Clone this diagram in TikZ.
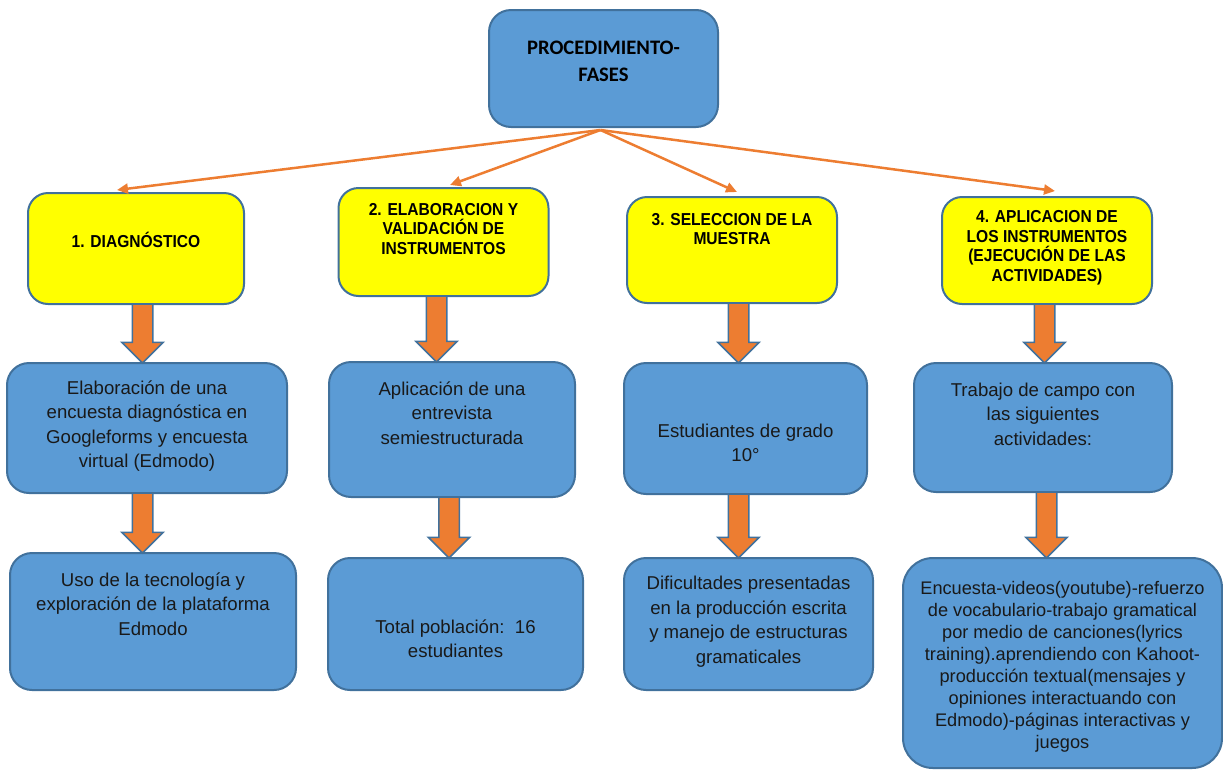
\documentclass[tikz,border=0pt]{standalone}
\usepackage{fontspec}
\setmainfont{Liberation Sans}
\newfontfamily\titlefont{Carlito}
\newfontfamily\phasefont[FakeStretch=0.9]{Liberation Sans}
\usepackage{xcolor}
\usepackage{tikz}
\usetikzlibrary{shapes,arrows,positioning,calc,arrows.meta}

\definecolor{boxblue}{HTML}{5B9BD5}
\definecolor{edgeblue}{HTML}{41719C}
\definecolor{phaseyellow}{HTML}{FFFF00}
\definecolor{arroworange}{HTML}{ED7D31}

\begin{document}
\begin{tikzpicture}[x=1pt, y=-1pt,
    box/.style={draw=edgeblue, line width=2pt, rounded corners=22pt, inner sep=0pt, outer sep=0pt},
    bluebox/.style={box, fill=boxblue},
    phasebox/.style={box, fill=phaseyellow, rounded corners=20pt},
    titletext/.style={align=center, font=\titlefont\bfseries\fontsize{20.6}{27}\selectfont},
    ptext/.style={align=center, font=\phasefont\bfseries\fontsize{17.3}{19.5}\selectfont},
    btext/.style={align=center, text=black!90, font=\fontsize{18.6}{24.5}\selectfont},
    blockarr/.style={single arrow, draw=edgeblue, fill=arroworange, line width=1.5pt, rotate=-90,
        minimum width=40pt, single arrow head extend=10.5pt, inner xsep=0pt, inner ysep=9.5pt,
        outer sep=0pt, anchor=tail},
    fanarr/.style={draw=arroworange, line width=2.5pt, -{Triangle[length=11pt,width=10pt]}}]
    \useasboundingbox (0,0) rectangle (1223,777);

    \node[bluebox, minimum width=229, minimum height=117] (top) at (603.5,68.5) {};
    \node[titletext] (top-t) at ([yshift=7.5pt]top.center) {PROCEDIMIENTO-\\FASES};

    \node[phasebox, minimum width=216, minimum height=111] (y1) at (136,248.5) {};
    \node[ptext] (y1-t) at ([yshift=8.5pt]y1.center) {1. DIAGNÓSTICO};
    \node[phasebox, minimum width=210, minimum height=108] (y2) at (443.5,242) {};
    \node[ptext] (y2-t) at ([yshift=13pt]y2.center) {2. ELABORACION Y\\VALIDACIÓN DE\\INSTRUMENTOS};
    \node[phasebox, minimum width=210, minimum height=106] (y3) at (732,250) {};
    \node[ptext] (y3-t) at ([yshift=21pt]y3.center) {3. SELECCION DE LA\\MUESTRA};
    \node[phasebox, minimum width=210, minimum height=107] (y4) at (1047,250.5) {};
    \node[ptext] (y4-t) at ([yshift=3pt]y4.center) {4. APLICACION DE\\LOS INSTRUMENTOS\\(EJECUCIÓN DE LAS\\ACTIVIDADES)};

    \node[bluebox, minimum width=280, minimum height=130] (m1) at (147,428) {};
    \node[btext] (m1-t) at ([yshift=2pt]m1.center) {Elaboración de una\\encuesta diagnóstica en\\Googleforms y encuesta\\virtual (Edmodo)};
    \node[bluebox, minimum width=246, minimum height=135] (m2) at (452,429.5) {};
    \node[btext] (m2-t) at ([yshift=16.5pt]m2.center) {Aplicación de una\\entrevista\\semiestructurada};
    \node[bluebox, minimum width=243, minimum height=131] (m3) at (745.5,428.5) {};
    \node[btext] (m3-t) at ([yshift=-14.5pt]m3.center) {Estudiantes de grado\\10°};
    \node[bluebox, minimum width=258, minimum height=129] (m4) at (1043,427.5) {};
    \node[btext] (m4-t) at ([yshift=13.5pt]m4.center) {Trabajo de campo con\\las siguientes\\actividades:};

    \node[bluebox, minimum width=286, minimum height=137] (b1) at (153,621.5) {};
    \node[btext] (b1-t) at ([yshift=17.5pt]b1.center) {Uso de la tecnología y\\exploración de la plataforma\\Edmodo};
    \node[bluebox, minimum width=255, minimum height=132] (b2) at (455.5,624) {};
    \node[btext] (b2-t) at ([yshift=-14.5pt]b2.center) {Total población:\ \ 16\\estudiantes};
    \node[bluebox, minimum width=249, minimum height=132] (b3) at (748.5,624) {};
    \node[btext] (b3-t) at ([yshift=2.5pt]b3.center) {Dificultades presentadas\\en la producción escrita\\y manejo de estructuras\\gramaticales};
    \node[bluebox, minimum width=319, minimum height=210, rounded corners=30pt] (b4) at (1062.5,663) {};
    \node[btext, font=\fontsize{18.2}{22}\selectfont] (b4-t) at ([yshift=-3.5pt]b4.center)
        {Encuesta-videos(youtube)-refuerzo\\de vocabulario-trabajo gramatical\\por medio de canciones(lyrics\\training).aprendiendo con Kahoot-\\producción textual(mensajes y\\opiniones interactuando con\\Edmodo)-páginas interactivas y\\juegos};

    \foreach \dst/\dx/\dy in {y1/-19/3, y2/6.5/3, y3/5/5, y4/8/6}
        \draw[fanarr] ([xshift=-3pt,yshift=-3pt]top.south) -- ([xshift=\dx pt,yshift=\dy pt]\dst.north);

    \foreach \src/\dst/\ax in {y1/m1/142.5, y2/m2/436.5, y3/m3/738.5, y4/m4/1044.5,
                               m1/b1/142.5, m2/b2/449, m3/b3/738.5, m4/b4/1046.5}
        \path let \p1=(\src.south), \p2=(\dst.north) in
            node[blockarr, minimum height={\y1-\y2}] (\src-\dst) at (\ax pt, \y1) {};
\end{tikzpicture}
\end{document}
